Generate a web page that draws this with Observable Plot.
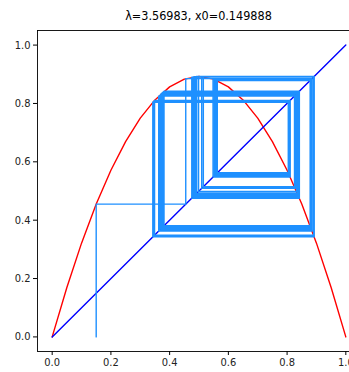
<!DOCTYPE html>
<html><head><meta charset="utf-8">
<script src="https://cdn.jsdelivr.net/npm/d3@7"></script>
<script src="https://cdn.jsdelivr.net/npm/@observablehq/plot@0.6"></script>
<style>
html,body{margin:0;padding:0;background:#fff;overflow:hidden;width:349px;height:372px}
#wrap{position:relative;width:360px;height:372px}
#title{position:absolute;left:0;width:397px;top:10px;height:12px;line-height:12px;text-align:center;font-family:"DejaVu Sans Condensed","DejaVu Sans",sans-serif;font-stretch:condensed;font-size:12.5px;color:#000;white-space:nowrap}
#chart{position:absolute;left:0;top:22px}
</style></head><body>
<div id="wrap"><div id="title">λ=3.56983, x0=0.149888</div><div id="chart"></div></div>
<script>
// Logistic curve samples (red)
const curveX = [0,0.05,0.1,0.15,0.2,0.25,0.3,0.35,0.4,0.45,0.5,0.55,0.6,0.65,0.7,0.75,0.8,0.85,0.9,0.95,1];
const curveY = [0,0.169567,0.321285,0.455153,0.571173,0.669343,0.749664,0.812136,0.856759,0.883533,0.892458,0.883533,0.856759,0.812136,0.749664,0.669343,0.571173,0.455153,0.321285,0.169567,0];
// Diagonal y = x (blue)
const diagX = [0,1];
const diagY = [0,1];
// Orbit values (cobweb), starting at x0
const orbit = [0.149888,0.4548735,0.8851879,0.362803,0.8252626,0.5147845,0.8916771,0.3448067,0.8064781,0.5571477,0.8807988,0.3748047,0.8365044,0.4882271,0.8919627,0.3440074,0.8055904,0.5590872,0.8799942,0.3769897,0.8384407,0.4835617,0.8914929,0.3453215,0.8070476,0.5559004,0.8813022,0.3734353,0.8352738,0.4911783,0.8921798,0.3433998,0.8049124,0.5605647,0.8793631,0.3787004,0.8399324,0.4799494,0.8910224,0.3466359,0.808493,0.5527243,0.8825338,0.3700768,0.8321988,0.498505,0.8924496,0.3426441,0.8040654,0.562406,0.8785549,0.3808873,0.8418095,0.4753811,0.8902939,0.3486679,0.8107034,0.5478383,0.884288,0.3652747,0.8276619,0.5091924,0.8921559,0.3434666,0.8049871,0.5604024,0.879433,0.3785112,0.8397686,0.4803467,0.8910785,0.3464791,0.8083213,0.5531023,0.882391,0.3704667,0.8325597,0.497649,0.8924379,0.342677,0.8041025];
const ticks = [0,0.2,0.4,0.6,0.8,1.0];

const curve = curveX.map((x,i)=>({x, y:curveY[i]}));
const diag = diagX.map((x,i)=>({x, y:diagY[i]}));
const web = [{x:orbit[0], y:0}];
for (let i=0;i<orbit.length-1;i++){
  web.push({x:orbit[i], y:orbit[i+1]});
  web.push({x:orbit[i+1], y:orbit[i+1]});
}

const font = '"DejaVu Sans Condensed","DejaVu Sans",sans-serif';
const chart = Plot.plot({
  width: 360, height: 350,
  marginLeft: 37, marginRight: 0, marginTop: 8, marginBottom: 21,
  style: {fontFamily: font, fontSize: "11px", fontStretch: "condensed", color: "#000", background: "#fff", overflow: "visible"},
  x: {domain: [-0.05, 1.05]},
  y: {domain: [-0.05, 1.05]},
  marks: [
    Plot.line(curve, {x:"x", y:"y", stroke:"red", strokeWidth:1.4}),
    Plot.line(diag, {x:"x", y:"y", stroke:"blue", strokeWidth:1.4}),
    Plot.line(web, {x:"x", y:"y", stroke:"#1e90ff", strokeWidth:1.4}),
    Plot.frame({stroke:"#000", strokeWidth:0.9}),
    Plot.axisX({ticks, tickFormat: d3.format(".1f"), tickSize: 4, tickPadding: 3, label: null, fill:"#222"}),
    Plot.axisY({ticks, tickFormat: d3.format(".1f"), tickSize: 4, tickPadding: 3, label: null, fill:"#222"})
  ]
});
document.getElementById("chart").appendChild(chart);
</script>
</body></html>
